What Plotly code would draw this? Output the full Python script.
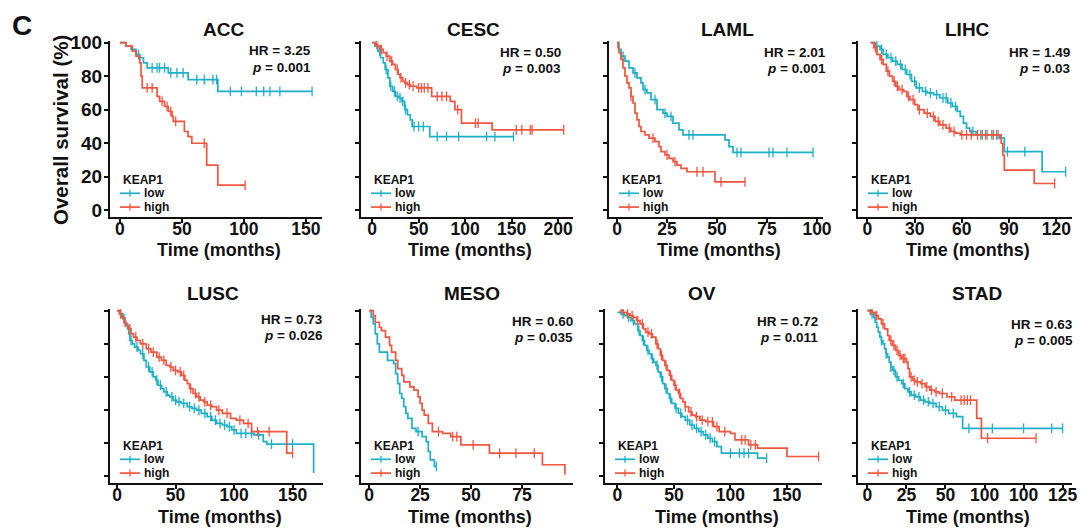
import plotly.graph_objects as go

W, H = 1080, 528
CYAN = "#1DB0C8"
RED = "#F2553F"
FONT = "Liberation Sans"

# ---------------- data ----------------
panels = ["ACC", "CESC", "LAML", "LIHC", "LUSC", "MESO", "OV", "STAD"]
hr_values = ["3.25", "0.50", "2.01", "1.49", "0.73", "0.60", "0.72", "0.63"]
p_values = ["0.001", "0.003", "0.001", "0.03", "0.026", "0.035", "0.011", "0.005"]

x_ranges = [[-8, 163], [-12, 216], [-4, 103], [-6, 130], [-6, 176], [-4, 100], [-11, 181], [-6, 131]]
x_tickvals = [[0, 50, 100, 150], [0, 50, 100, 150, 200], [0, 25, 50, 75, 100], [0, 30, 60, 90, 120],
              [0, 50, 100, 150], [0, 25, 50, 75], [0, 50, 100, 150], [0, 25, 50, 75, 100, 125]]
x_ticktext = [["0", "50", "100", "150"], ["0", "50", "100", "150", "200"], ["0", "25", "50", "75", "100"],
              ["0", "30", "60", "90", "120"], ["0", "50", "100", "150"], ["0", "25", "50", "75"],
              ["0", "50", "100", "150"], ["0", "25", "50", "100", "100", "125"]]
y_tickvals = [0, 20, 40, 60, 80, 100]

# ACC
ACC_low_t = [0, 5, 9, 13, 16, 19, 22, 39, 55, 79]
ACC_low_s = [100, 98, 96, 93, 91, 88, 85, 82, 78, 71]
ACC_low_end = 155
ACC_low_cens = [15, 26, 30, 32, 36, 41, 46, 51, 62, 68, 75, 78, 89, 98, 110, 116, 121, 129, 155]
ACC_high_t = [0, 5, 10, 13, 16, 17, 18, 30, 32, 36, 39, 42, 43, 52, 55, 58, 70, 79]
ACC_high_s = [100, 98, 95, 92, 88, 80, 73, 68, 65, 62, 59, 56, 53, 47, 44, 40, 27, 15]
ACC_high_end = 101
ACC_high_cens = [22, 26, 34, 38, 41, 45, 68, 101]

# CESC
CESC_low_t = [0, 3, 6, 9, 12, 14, 17, 19, 22, 25, 29, 32, 35, 38, 41, 43, 62]
CESC_low_s = [100, 98, 95, 91, 88, 84, 79, 74, 71, 68, 67, 65, 60, 57, 54, 50, 44]
CESC_low_end = 152
CESC_low_cens = [8, 15, 20, 24, 27, 30, 33, 36, 45, 50, 55, 70, 80, 93, 123, 132, 152]
CESC_high_t = [0, 3, 6, 9, 12, 15, 19, 22, 25, 28, 30, 33, 35, 38, 41, 48, 64, 84, 89, 96, 129]
CESC_high_s = [100, 99, 98, 96, 94, 92, 89, 87, 84, 81, 79, 77, 76, 75, 74, 73, 68, 65, 60, 52, 48]
CESC_high_end = 206
CESC_high_cens = [5, 10, 16, 21, 27, 31, 36, 40, 44, 50, 53, 56, 60, 70, 75, 80, 92, 111, 114, 155, 161, 170, 172, 206]

# LAML
LAML_low_t = [0, 1, 2, 4, 6, 8, 10, 12, 13, 15, 17, 20, 23, 25, 28, 31, 33, 54, 56, 58]
LAML_low_s = [100, 96, 92, 89, 85, 82, 79, 76, 72, 70, 66, 60, 58, 56, 52, 48, 45, 42, 38, 34.5]
LAML_low_end = 98
LAML_low_cens = [3, 9, 14, 19, 24, 27, 36, 38, 60, 62, 76, 78, 85, 98]
LAML_high_t = [0, 0.5, 1, 2, 3, 4, 5, 6, 7, 8, 9, 10, 11, 12, 14, 16, 19, 21, 22, 24, 26, 28, 30, 32, 35, 49]
LAML_high_s = [100, 97, 94, 90, 85, 80, 76, 73, 68, 64, 58, 54, 50, 47, 45, 43, 41, 38, 35, 33, 31, 29, 27, 25, 23, 17]
LAML_high_end = 64
LAML_high_cens = [7, 18, 25, 29, 40, 43, 52, 64]

# LIHC
LIHC_low_t = [2, 5, 8, 10, 13, 16, 19, 22, 25, 28, 31, 35, 38, 42, 46, 51, 54, 57, 59, 61, 63, 65, 69, 84, 87, 111]
LIHC_low_s = [100, 98, 96, 93, 91, 89, 87, 84, 81, 77, 73, 71, 70, 69, 67, 64, 62, 59, 56, 52, 49, 47, 45, 43, 35, 23]
LIHC_low_end = 126
LIHC_low_cens = [6, 9, 12, 15, 18, 21, 24, 27, 30, 33, 37, 40, 44, 48, 50, 53, 56, 67, 72, 75, 79, 82, 89, 100, 126]
LIHC_high_t = [2, 4, 6, 8, 10, 12, 14, 16, 18, 20, 23, 25, 27, 30, 32, 36, 40, 43, 46, 50, 53, 56, 59, 85, 86, 87, 106]
LIHC_high_s = [100, 97, 93, 90, 87, 83, 80, 77, 74, 72, 71, 68, 66, 63, 60, 58, 56, 53, 51, 49, 47, 46, 45, 40, 33, 24, 16]
LIHC_high_end = 119
LIHC_high_cens = [5, 9, 13, 17, 19, 22, 26, 29, 33, 38, 42, 45, 48, 52, 55, 60, 63, 66, 70, 73, 76, 80, 83, 119]

# LUSC
LUSC_low_t = [0, 3, 5, 7, 9, 10, 11, 13, 15, 18, 20, 23, 25, 28, 31, 33, 35, 38, 40, 43, 45, 48, 51, 55, 60,
              64, 68, 72, 77, 81, 85, 90, 94, 98, 102, 117, 125, 128, 168]
LUSC_low_s = [100, 98, 95, 92, 89, 86, 82, 80, 78, 76, 74, 70, 66, 63, 60, 58, 55, 53, 51, 49, 48, 46, 45, 44, 42,
              41, 40, 38, 36, 34, 32, 31, 30, 28, 26, 25, 21, 19.5, 2]
LUSC_low_end = 168
LUSC_low_cens = [6, 12, 17, 22, 27, 30, 34, 37, 42, 47, 50, 53, 57, 62, 66, 70, 75, 80, 84, 88, 92, 96, 100,
                 106, 110, 115, 121, 132, 150]
LUSC_high_t = [0, 2, 4, 6, 8, 10, 12, 14, 17, 20, 25, 29, 34, 38, 42, 45, 48, 52, 55, 58, 60, 62, 65, 68, 71,
               74, 77, 81, 85, 90, 97, 102, 108, 115, 145]
LUSC_high_s = [100, 98, 96, 93, 91, 89, 86, 84, 82, 80, 77, 75, 72, 70, 67, 66, 64, 63, 61, 58, 56, 53, 50, 48, 46,
               45, 43, 42, 40, 38, 35, 34, 32, 27, 14]
LUSC_high_end = 150
LUSC_high_cens = [3, 7, 11, 16, 22, 27, 31, 36, 40, 46, 50, 54, 57, 63, 67, 70, 75, 80, 87, 94, 105, 112, 120, 130, 150]

# MESO
MESO_low_t = [0, 1, 2, 3, 4, 5, 9, 12, 13, 14, 15, 16, 17, 18, 19, 21, 23, 26, 28, 29, 30, 32]
MESO_low_s = [100, 96, 92, 86, 80, 75, 70, 68, 62, 56, 50, 47, 42, 38, 35, 29, 27, 24, 21, 15, 10, 6]
MESO_low_end = 33
MESO_low_cens = [24, 33]
MESO_high_t = [0, 2, 3, 5, 6, 8, 10, 11, 13, 14, 16, 17, 20, 22, 24, 25, 26, 27, 29, 31, 36, 40, 45, 59, 85, 96]
MESO_high_s = [100, 97, 93, 90, 88, 84, 79, 75, 70, 65, 61, 57, 54, 52, 48, 44, 40, 37, 32, 27, 26, 24, 19, 14, 7, 1]
MESO_high_end = 96
MESO_high_cens = [34, 41, 43, 51, 64, 72, 81]

# OV
OV_low_t = [0, 3, 6, 9, 12, 15, 18, 20, 22, 24, 26, 28, 30, 32, 34, 36, 38, 40, 42, 44, 46, 48, 51, 54, 57,
            60, 64, 68, 72, 76, 80, 84, 88, 92, 124]
OV_low_s = [99, 98, 97, 96, 94, 92, 88, 85, 82, 79, 76, 74, 71, 69, 67, 63, 60, 56, 53, 50, 47, 44, 41, 38, 36,
            34, 31, 29, 27, 25, 23, 21, 18, 14, 11]
OV_low_end = 132
OV_low_cens = [5, 10, 14, 19, 23, 27, 31, 35, 39, 43, 47, 52, 56, 62, 66, 70, 74, 78, 82, 86, 100, 108, 112, 116, 132]
OV_high_t = [2, 5, 8, 11, 14, 17, 20, 23, 25, 28, 31, 34, 36, 38, 40, 42, 44, 46, 48, 50, 52, 54, 56, 58, 60,
             63, 66, 69, 73, 78, 85, 90, 100, 104, 116, 124, 150]
OV_high_s = [100, 99, 98, 97, 96, 94, 92, 89, 87, 86, 84, 80, 77, 73, 70, 67, 64, 61, 58, 55, 52, 50, 47, 45, 42,
             39, 37, 36, 34, 33, 30, 27, 26, 22, 19, 17, 12]
OV_high_end = 178
OV_high_cens = [4, 9, 13, 18, 22, 27, 30, 35, 39, 43, 47, 51, 55, 60, 65, 70, 75, 80, 84, 88, 95, 110, 113, 118, 122, 178]

# STAD
STAD_low_t = [0, 2, 4, 5, 6, 7, 8, 9, 10, 11, 12, 13, 14, 15, 16, 18, 20, 22, 24, 26, 28, 31, 34, 37, 40, 44,
              48, 52, 57, 61]
STAD_low_s = [100, 98, 96, 93, 90, 87, 84, 82, 80, 77, 74, 72, 69, 66, 64, 60, 58, 56, 53, 51, 49, 48, 46, 45, 44,
              42, 40, 38, 36, 29]
STAD_low_end = 125
STAD_low_cens = [3, 9, 12, 15, 17, 19, 23, 27, 30, 33, 36, 39, 42, 46, 50, 55, 65, 80, 100, 118, 125]
STAD_high_t = [0, 3, 5, 7, 9, 11, 13, 14, 16, 18, 20, 22, 25, 26, 27, 29, 31, 34, 37, 40, 43, 46, 51, 56, 70, 73]
STAD_high_s = [100, 99, 97, 95, 92, 89, 85, 82, 79, 76, 73, 71, 69, 65, 60, 58, 57, 56, 54, 52, 51, 50, 48, 46, 35, 23]
STAD_high_end = 108
STAD_high_cens = [2, 6, 10, 15, 17, 19, 21, 23, 24, 28, 30, 32, 35, 38, 41, 44, 48, 54, 60, 62, 64, 66, 77, 108]

curves = [
    ((ACC_low_t, ACC_low_s, ACC_low_end, ACC_low_cens), (ACC_high_t, ACC_high_s, ACC_high_end, ACC_high_cens)),
    ((CESC_low_t, CESC_low_s, CESC_low_end, CESC_low_cens), (CESC_high_t, CESC_high_s, CESC_high_end, CESC_high_cens)),
    ((LAML_low_t, LAML_low_s, LAML_low_end, LAML_low_cens), (LAML_high_t, LAML_high_s, LAML_high_end, LAML_high_cens)),
    ((LIHC_low_t, LIHC_low_s, LIHC_low_end, LIHC_low_cens), (LIHC_high_t, LIHC_high_s, LIHC_high_end, LIHC_high_cens)),
    ((LUSC_low_t, LUSC_low_s, LUSC_low_end, LUSC_low_cens), (LUSC_high_t, LUSC_high_s, LUSC_high_end, LUSC_high_cens)),
    ((MESO_low_t, MESO_low_s, MESO_low_end, MESO_low_cens), (MESO_high_t, MESO_high_s, MESO_high_end, MESO_high_cens)),
    ((OV_low_t, OV_low_s, OV_low_end, OV_low_cens), (OV_high_t, OV_high_s, OV_high_end, OV_high_cens)),
    ((STAD_low_t, STAD_low_s, STAD_low_end, STAD_low_cens), (STAD_high_t, STAD_high_s, STAD_high_end, STAD_high_cens)),
]

# ---------------- layout (pixels) ----------------
col_px = [(110, 322), (361, 573), (609, 823), (858, 1072), (110, 323), (361, 573), (605, 822), (858, 1072)]
row_px = [(41, 217)] * 4 + [(309, 483)] * 4
title_x_px = [223, 473, 727, 967, 213, 472, 702, 977]
title_y_px = [29, 29, 29, 29, 293, 293, 293, 293]
xtitle_y_px = [249.5, 249.5, 249.5, 249.5, 517, 517, 517, 517]
hr_right_px = [313, 563, 828, 1072, 325, 575, 820, 1075]
hr_y_px = [(51, 67), (52, 68), (53, 69), (53, 69), (319, 335), (321, 337), (321, 337), (324, 340)]


def fx(p):
    return p / W


def fy(p):
    return 1 - p / H


def surv_at(t, s, c):
    idx = 0
    for i, ti in enumerate(t):
        if ti <= c:
            idx = i
    return s[idx]


BIG = dict(family=FONT, size=19, color="#111111", weight="bold")
TICK = dict(family=FONT, size=17.5, color="#111111", weight="bold")
XTITLE = dict(family=FONT, size=18, color="#111111", weight="bold")
SMALL = dict(family=FONT, size=13.5, color="#111111", weight="bold")
LEG = dict(family=FONT, size=12, color="#111111", weight="bold")

fig = go.Figure()
layout = dict(width=W, height=H, autosize=False, margin=dict(l=0, r=0, t=0, b=0, pad=0, autoexpand=False),
              paper_bgcolor="white", plot_bgcolor="white", showlegend=False,
              font=dict(family=FONT, color="#111111"))
annotations = []
shapes = []

for i, name in enumerate(panels):
    k = "" if i == 0 else str(i + 1)
    xa, ya = "x" + k, "y" + k
    for (t, s, end, cens), col in zip(curves[i], [CYAN, RED]):
        fig.add_trace(go.Scatter(x=t + [end], y=s + [s[-1]], mode="lines", line=dict(color=col, width=1.7, shape="hv"),
                                 xaxis=xa, yaxis=ya, hoverinfo="skip"))
        fig.add_trace(go.Scatter(x=cens, y=[surv_at(t, s, c) for c in cens], mode="markers",
                                 marker=dict(symbol="line-ns", size=7, color=col, line=dict(color=col, width=1.3)),
                                 xaxis=xa, yaxis=ya, hoverinfo="skip"))
    x0, x1 = col_px[i]
    top, bot = row_px[i]
    layout["xaxis" + k] = dict(domain=[fx(x0), fx(x1)], anchor=ya, range=x_ranges[i], tickvals=x_tickvals[i],
                               ticktext=x_ticktext[i], showline=True, linecolor="#111", linewidth=2,
                               ticks="outside", ticklen=4, tickwidth=2, tickcolor="#111", showgrid=False,
                               zeroline=False, automargin=False, tickfont=TICK, ticklabelstandoff=-9)
    layout["yaxis" + k] = dict(domain=[fy(bot), fy(top)], anchor=xa, range=[-4, 101], tickvals=y_tickvals,
                               showticklabels=(i == 0), showline=True, linecolor="#111", linewidth=2,
                               ticks="outside", ticklen=4, tickwidth=2, tickcolor="#111", showgrid=False,
                               zeroline=False, automargin=False, tickfont=BIG, ticklabelstandoff=-2)
    # panel title
    annotations.append(dict(text="<b>%s</b>" % name, x=fx(title_x_px[i]), y=fy(title_y_px[i]), xref="paper",
                            yref="paper", showarrow=False, xanchor="center", yanchor="middle", font=BIG))
    # x-axis title
    annotations.append(dict(text="<b>Time (months)</b>", x=fx((x0 + x1) / 2 + 3), y=fy(xtitle_y_px[i]), xref="paper",
                            yref="paper", showarrow=False, xanchor="center", yanchor="middle", font=XTITLE))
    # HR and p
    annotations.append(dict(text="<b>HR = %s</b>" % hr_values[i], x=fx(hr_right_px[i]), y=fy(hr_y_px[i][0]),
                            xref="paper", yref="paper", showarrow=False, xanchor="right", yanchor="middle",
                            font=SMALL))
    annotations.append(dict(text="<b><i>p</i> = %s</b>" % p_values[i], x=fx(hr_right_px[i]), y=fy(hr_y_px[i][1]),
                            xref="paper", yref="paper", showarrow=False, xanchor="right", yanchor="middle",
                            font=SMALL))
    # legend block
    lx = x0 + 10
    ky, ly, hy = bot - 37.5, bot - 23.7, bot - 9.9
    annotations.append(dict(text="<b>KEAP1</b>", x=fx(lx + 1), y=fy(ky), xref="paper", yref="paper",
                            showarrow=False, xanchor="left", yanchor="middle", font=LEG))
    for yy, lab, col in [(ly, "low", CYAN), (hy, "high", RED)]:
        annotations.append(dict(text="<b>%s</b>" % lab, x=fx(lx + 22), y=fy(yy), xref="paper", yref="paper",
                                showarrow=False, xanchor="left", yanchor="middle", font=LEG))
        shapes.append(dict(type="line", xref="paper", yref="paper", x0=fx(lx), x1=fx(lx + 20), y0=fy(yy), y1=fy(yy),
                           line=dict(color=col, width=1.7)))
        shapes.append(dict(type="line", xref="paper", yref="paper", x0=fx(lx + 10), x1=fx(lx + 10),
                           y0=fy(yy - 3.5), y1=fy(yy + 3.5), line=dict(color=col, width=1.3)))

# y-axis title of first panel
annotations.append(dict(text="<b>Overall survival (%)</b>", x=fx(60), y=fy(130), xref="paper", yref="paper",
                        showarrow=False, textangle=-90, xanchor="center", yanchor="middle",
                        font=dict(family=FONT, size=20.5, color="#111111", weight="bold")))
annotations.append(dict(text="<b>C</b>", x=fx(22), y=fy(26), xref="paper", yref="paper", showarrow=False,
                        xanchor="center", yanchor="middle", font=dict(family=FONT, size=28, color="#111111")))

layout["annotations"] = annotations
layout["shapes"] = shapes
fig.update_layout(**layout)
fig.write_html("out.html", config={"displayModeBar": False},
               post_script="document.body.style.margin='0px';")
